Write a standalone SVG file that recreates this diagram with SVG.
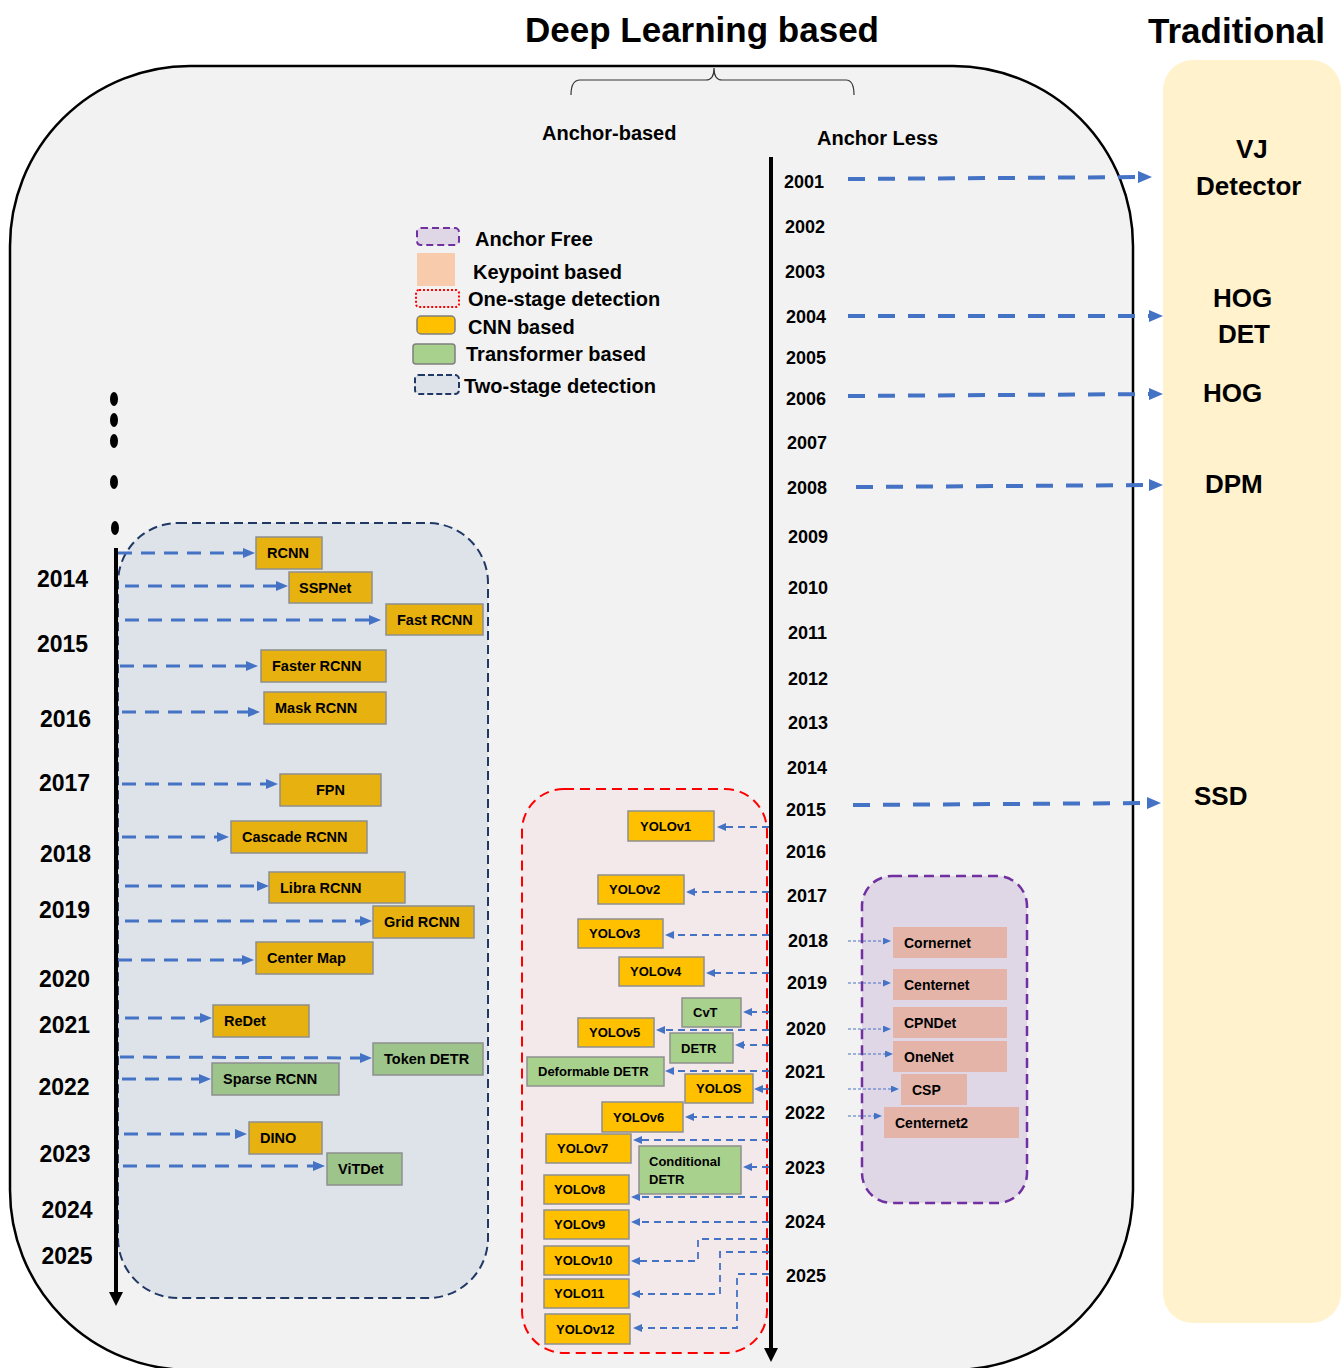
<svg xmlns="http://www.w3.org/2000/svg" width="1344" height="1368" viewBox="0 0 1344 1368">
<defs>
<style>
.t{font-family:"Liberation Sans",Arial,sans-serif;font-weight:bold;fill:#000}
.ttl{font-size:35px}
.sub{font-size:20px}
.yr{font-size:18px}
.ly{font-size:23px}
.tr26{font-size:26px}
.nd{font-size:14.5px}
.rn{font-size:13px}
.kp{font-size:14px}
.lg{font-size:20px}
.cnnL{fill:#e7b10f;stroke:#8f8f8f;stroke-width:1.5}
.trL{fill:#9dc48b;stroke:#8f8f8f;stroke-width:1.5}
.cnn{fill:#ffc000;stroke:#8f8f8f;stroke-width:1.5}
.trf{fill:#a9d18e;stroke:#8f8f8f;stroke-width:1.5}
.kpn{fill:#e4b4a8}
.aT{stroke:#4472c4;stroke-width:4;stroke-dasharray:17 13;fill:none;marker-end:url(#mBig)}
.aL{stroke:#4472c4;stroke-width:3;stroke-dasharray:14 9;fill:none;marker-end:url(#mMid)}
.aR{stroke:#4472c4;stroke-width:1.8;stroke-dasharray:7 5;fill:none;marker-end:url(#mSm)}
.aP{stroke:#4472c4;stroke-width:1;stroke-dasharray:3 2;fill:none;marker-end:url(#mTy)}
</style>
<marker id="mBig" viewBox="0 0 14 12" refX="7" refY="6" markerWidth="14" markerHeight="12" markerUnits="userSpaceOnUse" orient="auto"><path d="M0,0 L14,6 L0,12 z" fill="#4472c4"/></marker>
<marker id="mMid" viewBox="0 0 12 10" refX="6" refY="5" markerWidth="12" markerHeight="10" markerUnits="userSpaceOnUse" orient="auto"><path d="M0,0 L12,5 L0,10 z" fill="#4472c4"/></marker>
<marker id="mSm" viewBox="0 0 9 8" refX="4.5" refY="4" markerWidth="9" markerHeight="8" markerUnits="userSpaceOnUse" orient="auto"><path d="M0,0 L9,4 L0,8 z" fill="#4472c4"/></marker>
<marker id="mTy" viewBox="0 0 8 7" refX="4" refY="3.5" markerWidth="8" markerHeight="7" markerUnits="userSpaceOnUse" orient="auto"><path d="M0,0 L8,3.5 L0,7 z" fill="#4472c4"/></marker>
</defs>
<rect x="0" y="0" width="1344" height="1368" fill="#ffffff"/>

<!-- titles -->
<text class="t ttl" x="525" y="42">Deep Learning based</text>
<text class="t ttl" x="1148" y="43">Traditional</text>

<!-- main container -->
<g id="deep-learning-panel">
<rect x="10" y="66" width="1123" height="1304" rx="180" ry="180" fill="#f2f2f2" stroke="#000" stroke-width="2.5"/>
</g>
<g id="traditional-panel">
<rect x="1163" y="60" width="178" height="1263" rx="30" ry="30" fill="#fff2cc"/>
<text class="t tr26" x="1236" y="158">VJ</text>
<text class="t tr26" x="1196" y="195">Detector</text>
<text class="t tr26" x="1213" y="307">HOG</text>
<text class="t tr26" x="1218" y="343">DET</text>
<text class="t tr26" x="1203" y="402">HOG</text>
<text class="t tr26" x="1205" y="493">DPM</text>
<text class="t tr26" x="1194" y="805">SSD</text>
</g>

<!-- brace -->
<path d="M571,95 Q571,80 580,80 L706,80 Q714,80 714,68 Q714,80 722,80 L846,80 Q854,80 854,95" fill="none" stroke="#333" stroke-width="1.2"/>
<text class="t sub" x="542" y="140">Anchor-based</text>
<text class="t sub" x="817" y="145" font-size="19.5">Anchor Less</text>

<!-- legend -->
<g id="legend">
<rect x="417" y="228" width="42" height="17" rx="4" fill="#e0d7e6" stroke="#7030a0" stroke-width="2" stroke-dasharray="7 4"/>
<text class="t lg" x="475" y="246">Anchor Free</text>
<rect x="417" y="253" width="38" height="33" fill="#f8cbad"/>
<text class="t lg" x="473" y="279">Keypoint based</text>
<rect x="416" y="290" width="43" height="17" rx="3" fill="#f3e8ea" stroke="#ff0000" stroke-width="2" stroke-dasharray="2 2"/>
<text class="t lg" x="468" y="306">One-stage detection</text>
<rect x="417" y="316" width="38" height="18" rx="4" fill="#ffc000" stroke="#7f7f7f" stroke-width="1.5"/>
<text class="t lg" x="468" y="334">CNN based</text>
<rect x="413" y="344" width="42" height="20" rx="3" fill="#a9d18e" stroke="#7f7f7f" stroke-width="1.5"/>
<text class="t lg" x="466" y="361">Transformer based</text>
<rect x="415" y="375" width="44" height="19" rx="4" fill="#dee3ea" stroke="#203864" stroke-width="2" stroke-dasharray="6 3"/>
<text class="t lg" x="464" y="393">Two-stage detection</text>
</g>

<!-- group boxes -->
<g id="two-stage-box">
<rect x="118" y="523" width="370" height="775" rx="60" ry="60" fill="#dee3ea" stroke="#203864" stroke-width="2" stroke-dasharray="9 5"/>
</g>
<g id="one-stage-box">
<rect x="522" y="789" width="245" height="564" rx="42" ry="42" fill="#f3e8ea" stroke="#ff0000" stroke-width="2" stroke-dasharray="10 6"/>
</g>
<g id="anchor-free-box">
<rect x="862" y="876" width="165" height="327" rx="30" ry="30" fill="#e0d7e6" stroke="#7030a0" stroke-width="2.5" stroke-dasharray="10 6"/>
</g>

<!-- left timeline -->
<g id="left-timeline">
<ellipse cx="114" cy="399" rx="4" ry="7"/>
<ellipse cx="114" cy="420" rx="4" ry="7"/>
<ellipse cx="114" cy="441" rx="4" ry="7"/>
<ellipse cx="114" cy="482" rx="4" ry="7"/>
<ellipse cx="115" cy="528" rx="4" ry="7"/>
<line x1="116" y1="548" x2="116" y2="1294" stroke="#000" stroke-width="4"/>
<polygon points="109,1292 123,1292 116,1306" fill="#000"/>
<text class="t ly" x="37" y="587">2014</text>
<text class="t ly" x="37" y="652">2015</text>
<text class="t ly" x="40" y="727">2016</text>
<text class="t ly" x="39" y="791">2017</text>
<text class="t ly" x="40" y="862">2018</text>
<text class="t ly" x="39" y="918">2019</text>
<text class="t ly" x="39" y="987">2020</text>
<text class="t ly" x="39" y="1033">2021</text>
<text class="t ly" x="38.5" y="1095">2022</text>
<text class="t ly" x="39.5" y="1162">2023</text>
<text class="t ly" x="41.5" y="1218">2024</text>
<text class="t ly" x="41.5" y="1264">2025</text>
</g>

<!-- right timeline -->
<g id="right-timeline">
<line x1="771" y1="157" x2="771" y2="1350" stroke="#000" stroke-width="4"/>
<polygon points="764,1348 778,1348 771,1362" fill="#000"/>
<text class="t yr" x="784" y="188">2001</text>
<text class="t yr" x="785" y="233">2002</text>
<text class="t yr" x="785" y="278">2003</text>
<text class="t yr" x="786" y="323">2004</text>
<text class="t yr" x="786" y="364">2005</text>
<text class="t yr" x="786" y="405">2006</text>
<text class="t yr" x="787" y="449">2007</text>
<text class="t yr" x="787" y="494">2008</text>
<text class="t yr" x="788" y="543">2009</text>
<text class="t yr" x="788" y="594">2010</text>
<text class="t yr" x="788" y="639">2011</text>
<text class="t yr" x="788" y="685">2012</text>
<text class="t yr" x="788" y="729">2013</text>
<text class="t yr" x="787" y="774">2014</text>
<text class="t yr" x="786" y="816">2015</text>
<text class="t yr" x="786" y="858">2016</text>
<text class="t yr" x="787" y="902">2017</text>
<text class="t yr" x="788" y="947">2018</text>
<text class="t yr" x="787" y="989">2019</text>
<text class="t yr" x="786" y="1035">2020</text>
<text class="t yr" x="785" y="1078">2021</text>
<text class="t yr" x="785" y="1119">2022</text>
<text class="t yr" x="785" y="1174">2023</text>
<text class="t yr" x="785" y="1228">2024</text>
<text class="t yr" x="786" y="1282">2025</text>
</g>

<!-- connectors -->
<g id="connectors">
<line class="aT" x1="848" y1="179" x2="1145" y2="177"/>
<line class="aT" x1="848" y1="316" x2="1156" y2="316"/>
<line class="aT" x1="848" y1="396" x2="1156" y2="394"/>
<line class="aT" x1="856" y1="487" x2="1156" y2="485"/>
<line class="aT" x1="853" y1="805" x2="1154" y2="803"/>

<line class="aL" x1="118" y1="553" x2="249" y2="553"/>
<line class="aL" x1="125" y1="586" x2="282" y2="586"/>
<line class="aL" x1="125" y1="620" x2="375" y2="620"/>
<line class="aL" x1="120" y1="666" x2="252" y2="666"/>
<line class="aL" x1="122" y1="712" x2="254" y2="712"/>
<line class="aL" x1="122" y1="784" x2="272" y2="784"/>
<line class="aL" x1="122" y1="837" x2="223" y2="837"/>
<line class="aL" x1="125" y1="886" x2="263" y2="886"/>
<line class="aL" x1="125" y1="921" x2="366" y2="921"/>
<line class="aL" x1="118" y1="960" x2="248" y2="960"/>
<line class="aL" x1="125" y1="1018" x2="206" y2="1018"/>
<line class="aL" x1="120" y1="1057" x2="366" y2="1058"/>
<line class="aL" x1="122" y1="1079" x2="205" y2="1079"/>
<line class="aL" x1="124" y1="1134" x2="241" y2="1134"/>
<line class="aL" x1="123" y1="1166" x2="319" y2="1166"/>

<line class="aR" x1="769" y1="827" x2="721.5" y2="827"/>
<line class="aR" x1="769" y1="892" x2="690.5" y2="892"/>
<line class="aR" x1="769" y1="935" x2="669.5" y2="935"/>
<line class="aR" x1="769" y1="973" x2="710.5" y2="973"/>
<line class="aR" x1="769" y1="1012" x2="747.5" y2="1012"/>
<line class="aR" x1="769" y1="1030" x2="660.5" y2="1030"/>
<line class="aR" x1="769" y1="1045" x2="739.5" y2="1045"/>
<line class="aR" x1="769" y1="1071" x2="669.5" y2="1071"/>
<line class="aR" x1="769" y1="1089" x2="758.5" y2="1089"/>
<line class="aR" x1="769" y1="1117" x2="689.5" y2="1117"/>
<line class="aR" x1="769" y1="1140" x2="637.5" y2="1140"/>
<line class="aR" x1="769" y1="1167" x2="747.5" y2="1167"/>
<line class="aR" x1="769" y1="1197" x2="635.5" y2="1197"/>
<line class="aR" x1="769" y1="1222" x2="635.5" y2="1222"/>
<path class="aR" d="M769,1239 H698 V1261 H635.5"/>
<path class="aR" d="M769,1252 H720 V1294 H635.5"/>
<path class="aR" d="M769,1274 H737 V1328 H637.5"/>

<line class="aP" x1="848" y1="941" x2="887" y2="941"/>
<line class="aP" x1="848" y1="983" x2="887" y2="983"/>
<line class="aP" x1="848" y1="1029" x2="887" y2="1029"/>
<line class="aP" x1="848" y1="1054" x2="889" y2="1054"/>
<line class="aP" x1="848" y1="1089" x2="895" y2="1089"/>
<line class="aP" x1="848" y1="1116" x2="878" y2="1116"/>
</g>

<!-- two-stage nodes -->
<g id="n-rcnn"><rect class="cnnL" x="256" y="537" width="66" height="32"/><text class="t nd" x="267" y="558">RCNN</text></g>
<g id="n-sppnet"><rect class="cnnL" x="289" y="572" width="83" height="31"/><text class="t nd" x="299" y="592.5">SSPNet</text></g>
<g id="n-fastrcnn"><rect class="cnnL" x="386" y="604" width="97" height="31"/><text class="t nd" x="397" y="624.5">Fast RCNN</text></g>
<g id="n-fasterrcnn"><rect class="cnnL" x="261" y="650" width="125" height="32"/><text class="t nd" x="272" y="671">Faster RCNN</text></g>
<g id="n-maskrcnn"><rect class="cnnL" x="264" y="692" width="122" height="32"/><text class="t nd" x="275" y="713">Mask RCNN</text></g>
<g id="n-fpn"><rect class="cnnL" x="280" y="774" width="101" height="32"/><text class="t nd" x="316" y="795">FPN</text></g>
<g id="n-cascade"><rect class="cnnL" x="231" y="821" width="136" height="32"/><text class="t nd" x="242" y="842">Cascade RCNN</text></g>
<g id="n-libra"><rect class="cnnL" x="269" y="872" width="136" height="31"/><text class="t nd" x="280" y="892.5">Libra RCNN</text></g>
<g id="n-grid"><rect class="cnnL" x="373" y="906" width="101" height="32"/><text class="t nd" x="384" y="927">Grid RCNN</text></g>
<g id="n-centermap"><rect class="cnnL" x="256" y="942" width="117" height="32"/><text class="t nd" x="267" y="963">Center Map</text></g>
<g id="n-redet"><rect class="cnnL" x="213" y="1005" width="96" height="32"/><text class="t nd" x="224" y="1026">ReDet</text></g>
<g id="n-tokendetr"><rect class="trL" x="373" y="1043" width="110" height="32"/><text class="t nd" x="384" y="1064">Token DETR</text></g>
<g id="n-sparsercnn"><rect class="trL" x="212" y="1063" width="127" height="32"/><text class="t nd" x="223" y="1084">Sparse RCNN</text></g>
<g id="n-dino"><rect class="cnnL" x="249" y="1122" width="73" height="32"/><text class="t nd" x="260" y="1143">DINO</text></g>
<g id="n-vitdet"><rect class="trL" x="327" y="1153" width="75" height="32"/><text class="t nd" x="338" y="1174">ViTDet</text></g>

<!-- one-stage nodes -->
<g id="n-yolov1"><rect class="cnn" x="628" y="811" width="86" height="30"/><text class="t rn" x="640" y="830.5">YOLOv1</text></g>
<g id="n-yolov2"><rect class="cnn" x="598" y="875" width="86" height="29"/><text class="t rn" x="609" y="894">YOLOv2</text></g>
<g id="n-yolov3"><rect class="cnn" x="578" y="919" width="85" height="29"/><text class="t rn" x="589" y="938">YOLOv3</text></g>
<g id="n-yolov4"><rect class="cnn" x="619" y="957" width="85" height="29"/><text class="t rn" x="630" y="976">YOLOv4</text></g>
<g id="n-cvt"><rect class="trf" x="682" y="998" width="59" height="29"/><text class="t rn" x="693" y="1017">CvT</text></g>
<g id="n-yolov5"><rect class="cnn" x="578" y="1018" width="76" height="29"/><text class="t rn" x="589" y="1037">YOLOv5</text></g>
<g id="n-detr"><rect class="trf" x="670" y="1033" width="63" height="30"/><text class="t rn" x="681" y="1052.5">DETR</text></g>
<g id="n-deformdetr"><rect class="trf" x="527" y="1057" width="137" height="29"/><text class="t rn" x="538" y="1076">Deformable DETR</text></g>
<g id="n-yolos"><rect class="cnn" x="685" y="1074" width="68" height="29"/><text class="t rn" x="696" y="1093">YOLOS</text></g>
<g id="n-yolov6"><rect class="cnn" x="602" y="1102" width="81" height="30"/><text class="t rn" x="613" y="1121.5">YOLOv6</text></g>
<g id="n-yolov7"><rect class="cnn" x="546" y="1134" width="85" height="29"/><text class="t rn" x="557" y="1153">YOLOv7</text></g>
<g id="n-conddetr"><rect class="trf" x="639" y="1146" width="102" height="48"/><text class="t rn" x="649" y="1166">Conditional</text><text class="t rn" x="649" y="1184">DETR</text></g>
<g id="n-yolov8"><rect class="cnn" x="544" y="1175" width="85" height="29"/><text class="t rn" x="554" y="1194">YOLOv8</text></g>
<g id="n-yolov9"><rect class="cnn" x="544" y="1210" width="85" height="29"/><text class="t rn" x="554" y="1229">YOLOv9</text></g>
<g id="n-yolov10"><rect class="cnn" x="544" y="1246" width="85" height="29"/><text class="t rn" x="554" y="1265">YOLOv10</text></g>
<g id="n-yolo11"><rect class="cnn" x="544" y="1279" width="85" height="29"/><text class="t rn" x="554" y="1298">YOLO11</text></g>
<g id="n-yolov12"><rect class="cnn" x="545" y="1314" width="85" height="30"/><text class="t rn" x="556" y="1333.5">YOLOv12</text></g>

<!-- anchor-free keypoint nodes -->
<g id="n-cornernet"><rect class="kpn" x="893" y="927" width="114" height="31"/><text class="t kp" x="904" y="947.5">Cornernet</text></g>
<g id="n-centernet"><rect class="kpn" x="893" y="969" width="114" height="31"/><text class="t kp" x="904" y="989.5">Centernet</text></g>
<g id="n-cpndet"><rect class="kpn" x="893" y="1007" width="114" height="31"/><text class="t kp" x="904" y="1027.5">CPNDet</text></g>
<g id="n-onenet"><rect class="kpn" x="893" y="1041" width="114" height="31"/><text class="t kp" x="904" y="1061.5">OneNet</text></g>
<g id="n-csp"><rect class="kpn" x="901" y="1074" width="66" height="31"/><text class="t kp" x="912" y="1094.5">CSP</text></g>
<g id="n-centernet2"><rect class="kpn" x="884" y="1107" width="135" height="31"/><text class="t kp" x="895" y="1127.5">Centernet2</text></g>
</svg>
